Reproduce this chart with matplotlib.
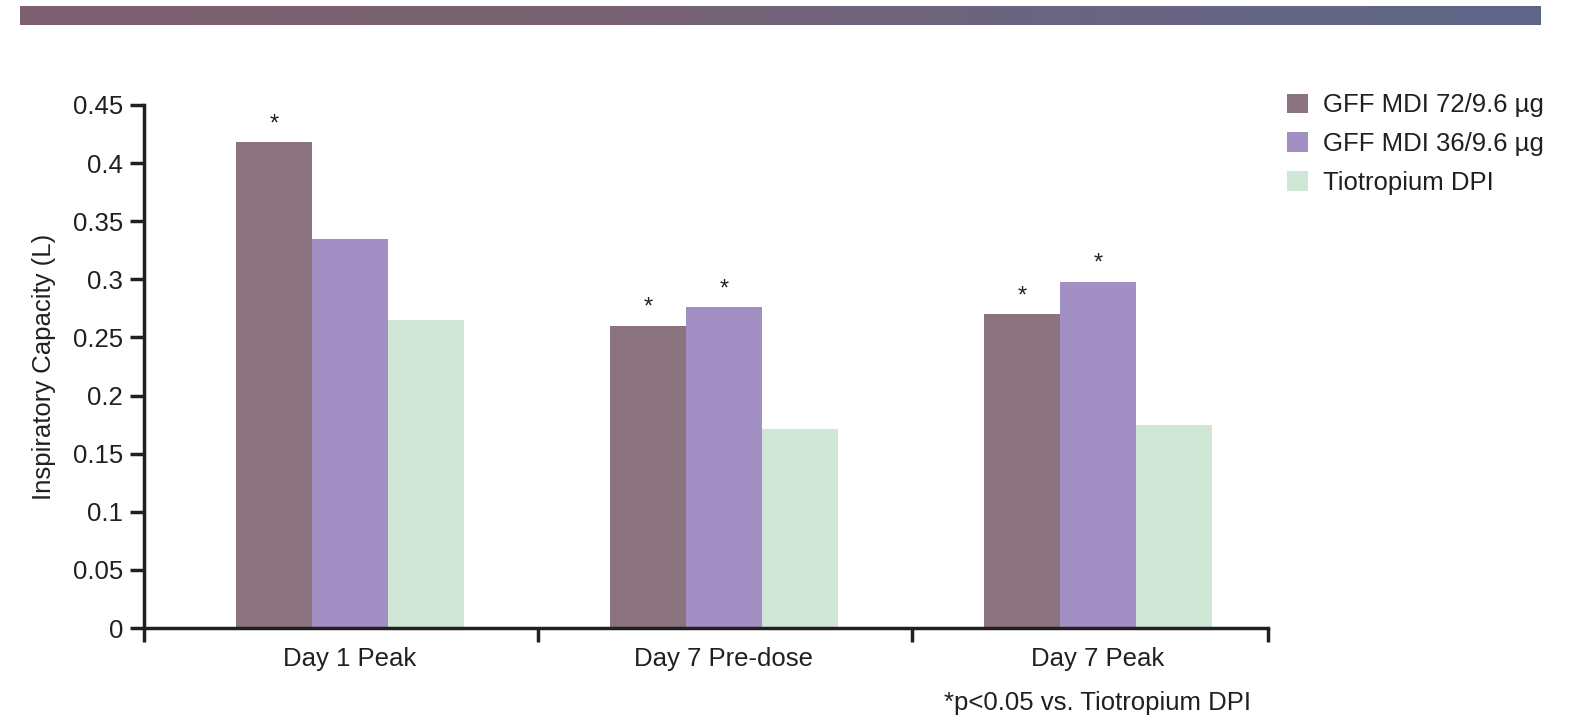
import numpy as np
import matplotlib.pyplot as plt
from matplotlib.colors import LinearSegmentedColormap

# data
groups = ['Day 1 Peak', 'Day 7 Pre-dose', 'Day 7 Peak']
series = ['GFF MDI 72/9.6 µg', 'GFF MDI 36/9.6 µg', 'Tiotropium DPI']
gff72 = [0.418, 0.260, 0.270]
gff36 = [0.335, 0.276, 0.298]
tio = [0.265, 0.171, 0.175]
sig72 = [True, True, True]
sig36 = [False, True, True]

colors = ['#8b7480', '#a290c4', '#d0e7d7']
plt.rcParams['font.family'] = ['Liberation Sans', 'DejaVu Sans']
fs = 18.5

fig = plt.figure(figsize=(15.69, 7.21), dpi=100)

# top banner gradient
bax = fig.add_axes([20/1569, 1-25/721, 1521/1569, 19/721])
cmap = LinearSegmentedColormap.from_list('b', ['#7d5f6e', '#79626f', '#6a6480', '#5e6688'])
bax.imshow(np.linspace(0, 1, 256).reshape(1, -1), aspect='auto', cmap=cmap)
bax.axis('off')

ax = fig.add_axes([144/1569, 1-628/721, 1124/1569, 523/721])
x = np.arange(len(groups))
w = 0.203
vals = [gff72, gff36, tio]
for i, (v, c, s) in enumerate(zip(vals, colors, series)):
    ax.bar(x + (i-1)*w, v, w, color=c, label=s, linewidth=0)

for xi, v, s in zip(x, gff72, sig72):
    if s:
        ax.text(xi - w, v + 0.006, '*', ha='center', va='bottom', fontsize=17, color='#231f20')
for xi, v, s in zip(x, gff36, sig36):
    if s:
        ax.text(xi, v + 0.006, '*', ha='center', va='bottom', fontsize=17, color='#231f20')

ax.set_xlim(-0.551, 2.455)
ax.set_ylim(0, 0.45)
ax.set_yticks(np.arange(0, 0.451, 0.05))
ax.set_yticklabels(['0', '0.05', '0.1', '0.15', '0.2', '0.25', '0.3', '0.35', '0.4', '0.45'])
ax.set_xticks([-0.551, 0.503, 1.503, 2.455])
ax.set_xticklabels([])
ax.set_xticks(x, minor=True)
ax.set_xticklabels(groups, minor=True)
ax.tick_params(axis='x', which='major', length=10, width=2.5, direction='out', color='#231f20')
ax.tick_params(axis='x', which='minor', length=0, labelsize=fs, pad=14, labelcolor='#231f20')
ax.tick_params(axis='y', length=10, width=2.5, labelsize=fs, pad=5, color='#231f20', labelcolor='#231f20')
for sp in ['top', 'right']:
    ax.spines[sp].set_visible(False)
for sp in ['left', 'bottom']:
    ax.spines[sp].set_linewidth(2.5)
    ax.spines[sp].set_color('#231f20')
ax.set_ylabel('Inspiratory Capacity (L)', fontsize=fs, color='#231f20', labelpad=12)

ax.legend(loc='upper left', bbox_to_anchor=(1.017, 1.022), frameon=False, fontsize=fs,
          borderpad=0, borderaxespad=0, handlelength=0.8, handleheight=0.8,
          handletextpad=0.6, labelspacing=0.57, labelcolor='#231f20')

fig.text(1098/1569, 1-703/721, '*p<0.05 vs. Tiotropium DPI', ha='center', va='center',
         fontsize=fs, color='#231f20')

fig.savefig('out.png', dpi=100)
